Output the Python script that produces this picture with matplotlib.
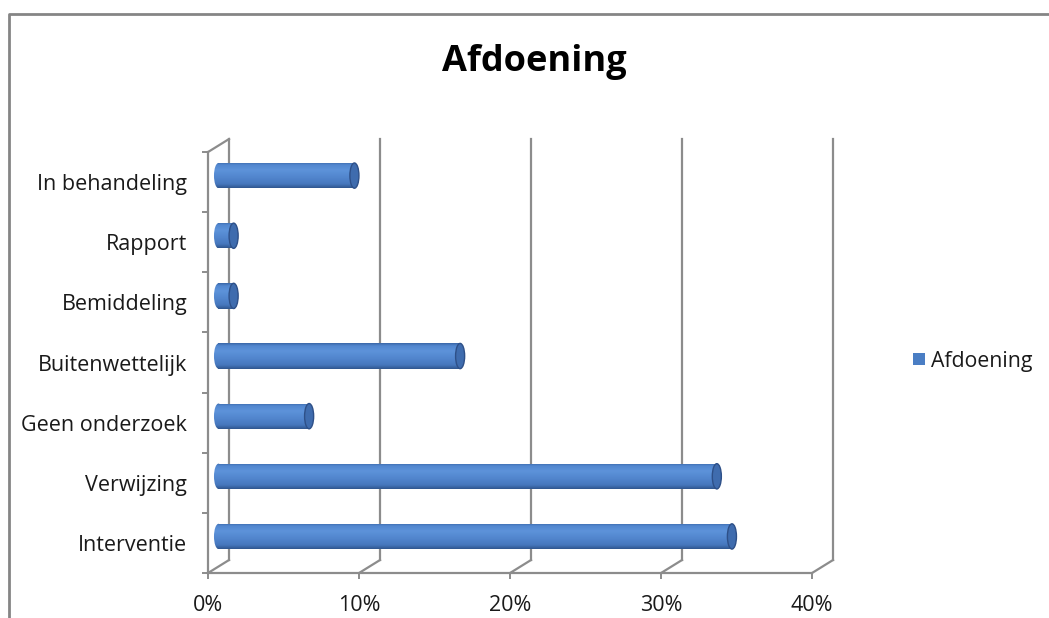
import numpy as np
import matplotlib
matplotlib.use("Agg")
import matplotlib.pyplot as plt
from matplotlib.patches import Rectangle, Ellipse, Patch
from matplotlib.colors import LinearSegmentedColormap
from matplotlib.lines import Line2D
from matplotlib.ticker import PercentFormatter

plt.rcParams['font.family'] = ['Open Sans', 'DejaVu Sans']

# Afdoening per categorie (percentages), van onder naar boven
categorieen = ['Interventie', 'Verwijzing', 'Geen onderzoek', 'Buitenwettelijk',
               'Bemiddeling', 'Rapport', 'In behandeling']
waarden = [34, 33, 6, 16, 1, 1, 9]
xticks = [0, 10, 20, 30, 40]
titel = 'Afdoening'
reeks = 'Afdoening'

GRIJS = '#8c8c8c'
DX, DY = 1.39, 0.216        # diepte van de 3D-doos in data-eenheden
BAR_H = 0.42                # dikte cilinder
CAP_W = 0.6                 # breedte ellips aan het uiteinde

cilinder = LinearSegmentedColormap.from_list('cil', [
    (0.0, '#3a67a8'), (0.1, '#5287cf'), (0.3, '#5d93da'),
    (0.6, '#5185cd'), (0.85, '#4677bd'), (1.0, '#30578f')])
grad = np.linspace(0, 1, 64).reshape(-1, 1)

fig = plt.figure(figsize=(10.49, 6.18), dpi=100)
ax = fig.add_axes([0.1983, 0.0728, 0.5758, 0.6812])

n = len(categorieen)
y0, y1 = -0.5, n - 0.5

# achterwand: verticale rasterlijnen en vloer-diagonalen
for x in xticks:
    ax.plot([x + DX, x + DX], [y0 + DY, y1 + DY], color=GRIJS, lw=1.6, zorder=1, clip_on=False)
    ax.plot([x, x + DX], [y0, y0 + DY], color=GRIJS, lw=1.6, zorder=1, clip_on=False)
# bovenkant linkerwand
ax.plot([0, DX], [y1, y1 + DY], color=GRIJS, lw=1.6, zorder=1, clip_on=False)

# cilinders
for i, v in enumerate(waarden):
    yc = i + DY / 2
    xs = DX / 2
    ext = (xs - CAP_W, xs + v, yc - BAR_H / 2, yc + BAR_H / 2)
    # linker uiteinde (ellips) en romp overlappen iets, zodat er geen naad zichtbaar is
    linker = Ellipse((xs, yc), CAP_W, BAR_H, facecolor='none', edgecolor='none')
    ax.add_patch(linker)
    im2 = ax.imshow(grad, cmap=cilinder, extent=ext, origin='upper', aspect='auto',
                    zorder=3, interpolation='bilinear')
    im2.set_clip_path(linker)
    start = xs - CAP_W * 0.1
    body = Rectangle((start, yc - BAR_H / 2), xs + v - start, BAR_H, facecolor='none', edgecolor='none')
    ax.add_patch(body)
    im = ax.imshow(grad, cmap=cilinder, extent=ext, origin='upper', aspect='auto',
                   zorder=3, interpolation='bilinear')
    im.set_clip_path(body)
    ax.add_patch(Ellipse((xs + v, yc), CAP_W, BAR_H, facecolor='#3f6cae',
                         edgecolor='#2e5088', lw=1.0, zorder=4))

ax.set_xlim(0, 40)
ax.set_ylim(y0, y1)
ax.set_aspect('auto')

for s in ['top', 'right']:
    ax.spines[s].set_visible(False)
for s in ['left', 'bottom']:
    ax.spines[s].set_color(GRIJS)
    ax.spines[s].set_linewidth(1.6)
    ax.spines[s].set_zorder(2)

ax.set_xticks(xticks)
ax.xaxis.set_major_formatter(PercentFormatter(decimals=0))
ax.set_yticks(range(n))
ax.set_yticklabels(categorieen)
ax.set_yticks(np.arange(y0, y1 + 0.01, 1), minor=True)
ax.tick_params(axis='y', which='major', length=0, pad=15, labelsize=15.5, labelcolor='#1a1a1a')
ax.tick_params(axis='y', which='minor', length=4, width=1.4, color=GRIJS)
ax.tick_params(axis='x', length=4, width=1.4, color=GRIJS, pad=12, labelsize=15.5, labelcolor='#1a1a1a')

fig.text(0.509, 0.899, titel, ha='center', va='center', fontsize=26, fontweight='bold')

ax.legend(handles=[Patch(facecolor='#4a7ec4', edgecolor='none', label=reeks)],
          loc='center left', bbox_to_anchor=(913 / 1049, 1 - 361 / 618),
          bbox_transform=fig.transFigure, frameon=False, fontsize=15.3,
          labelcolor='#1a1a1a', handlelength=0.55, handleheight=0.55, handletextpad=0.3,
          borderpad=0, borderaxespad=0)

# kader rond de grafiek
fig.add_artist(Line2D([9 / 1049, 9 / 1049, 1.0], [0.0, 1 - 14 / 618, 1 - 14 / 618],
                      transform=fig.transFigure, color='#858585', lw=2.0))

fig.savefig('out.png', dpi=100)
